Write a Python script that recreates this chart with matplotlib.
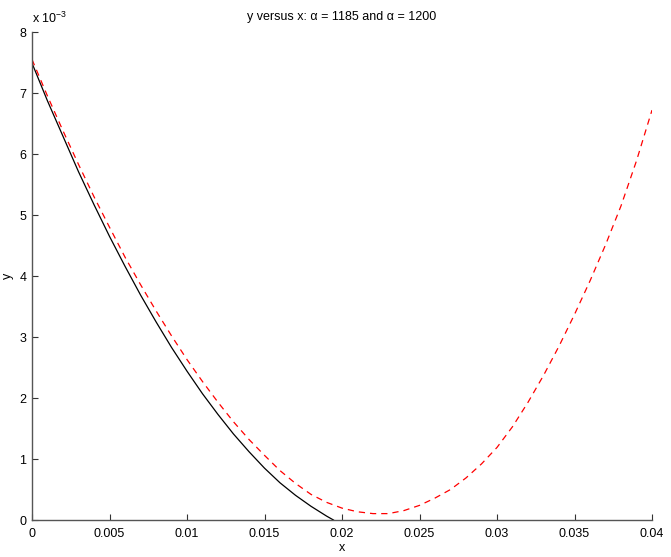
import matplotlib
matplotlib.use("Agg")
import matplotlib.pyplot as plt

plt.rcParams['font.family'] = ['Liberation Sans', 'DejaVu Sans']

# values (y in units of 1e-3)
x_1185 = [0, 0.001, 0.002, 0.003, 0.004, 0.005, 0.006, 0.007, 0.008, 0.009,
          0.010, 0.011, 0.012, 0.013, 0.014, 0.015, 0.016, 0.017, 0.018,
          0.019, 0.01945]
y_1185 = [7.49, 6.87, 6.29, 5.71, 5.17, 4.65, 4.16, 3.69, 3.25, 2.83,
          2.44, 2.07, 1.73, 1.41, 1.12, 0.85, 0.61, 0.405, 0.225,
          0.065, 0.0]

x_1200 = [0, 0.001, 0.002, 0.003, 0.004, 0.005, 0.006, 0.007, 0.008, 0.009,
          0.010, 0.011, 0.012, 0.013, 0.014, 0.015, 0.016, 0.017, 0.018,
          0.019, 0.020, 0.021, 0.022, 0.023, 0.024, 0.025, 0.026, 0.027,
          0.028, 0.029, 0.030, 0.031, 0.032, 0.033, 0.034, 0.035, 0.036,
          0.037, 0.038, 0.039, 0.040]
y_1200 = [7.55, 6.95, 6.38, 5.83, 5.30, 4.80, 4.31, 3.86, 3.43, 3.02,
          2.63, 2.27, 1.93, 1.61, 1.32, 1.06, 0.81, 0.60, 0.42,
          0.29, 0.195, 0.135, 0.105, 0.105, 0.155, 0.24, 0.36, 0.50,
          0.69, 0.92, 1.19, 1.53, 1.93, 2.37, 2.85, 3.37, 3.92,
          4.51, 5.15, 5.89, 6.72]

x_ticks = [0, 0.005, 0.01, 0.015, 0.02, 0.025, 0.03, 0.035, 0.04]
x_ticklabels = ['0', '0.005', '0.01', '0.015', '0.02', '0.025', '0.03', '0.035', '0.04']
y_ticks = [0, 1, 2, 3, 4, 5, 6, 7, 8]

fig = plt.figure(figsize=(6.71, 5.57), dpi=100)
ax = fig.add_axes([0.0477, 0.0664, 0.924, 0.8761])

ax.plot(x_1185, y_1185, color='black', lw=0.9)
ax.plot(x_1200, y_1200, color='red', lw=0.9, dashes=(5, 4))

ax.set_xlim(0, 0.04)
ax.set_ylim(0, 8)
ax.set_xticks(x_ticks)
ax.set_xticklabels(x_ticklabels)
ax.set_yticks(y_ticks)

for side in ['top', 'right']:
    ax.spines[side].set_visible(False)
for side in ['left', 'bottom']:
    ax.spines[side].set_color('#555555')
    ax.spines[side].set_linewidth(1.0)

ax.tick_params(direction='in', length=4, width=0.8, color='#333333',
               labelsize=9, pad=6)
ax.tick_params(axis='y', pad=4)

ax.set_xlabel('x', fontsize=9, labelpad=1)
ax.set_ylabel('y', fontsize=9, labelpad=4)
ax.set_title('y versus x: α = 1185 and α = 1200', fontsize=9, pad=9)

ax.text(0.0, 1.012, 'x 10$^{\\mathregular{-3}}$', transform=ax.transAxes,
        fontsize=9, ha='left', va='bottom')

fig.savefig('out.png', dpi=100)
